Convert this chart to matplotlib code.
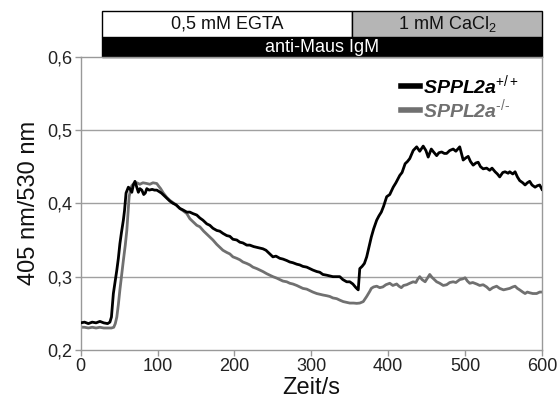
import matplotlib
matplotlib.use('Agg')
import matplotlib.pyplot as plt
from matplotlib.patches import Rectangle

plt.rcParams['font.family'] = ['Liberation Sans', 'DejaVu Sans']
plt.rcParams['mathtext.fontset'] = 'custom'
plt.rcParams['mathtext.rm'] = 'Liberation Sans'
plt.rcParams['mathtext.it'] = 'Liberation Sans:italic:bold'

# Zeit/s und 405/530-Verhaeltnis
t_wt = [0, 5, 10, 15, 20, 25, 30, 35, 38, 40, 42.5, 45, 47, 49, 51, 53, 55.5, 57, 59, 62,
        64, 66.5, 68.5, 70.6, 73, 75, 77, 79.5, 82, 84, 86, 89, 93, 96, 99, 102, 105, 108,
        112, 116, 120, 124, 129, 133, 138, 142, 146, 151, 155, 159, 164, 168, 172, 177,
        181, 185, 190, 194, 198, 203, 207, 211, 216, 220, 225, 229, 233, 237, 241, 245,
        250, 254, 259, 263, 268, 272, 276, 281, 285, 289, 294, 298, 302, 307, 311, 315,
        320, 324, 328, 333, 337, 341, 346, 350, 354, 358, 361, 363, 366, 369, 372, 376,
        378, 381, 385, 388, 391, 394, 398, 402, 406.5, 410, 415, 418, 422, 425, 428,
        432.5, 437, 441, 445.5, 449, 452, 456, 459, 463, 466, 469.5, 473, 476, 480,
        484.5, 488, 493, 497.5, 501, 504, 507, 510.5, 514, 517, 520, 523.5, 528, 532,
        535, 539, 542, 545, 549, 552, 556, 558, 562, 565, 568, 571, 575, 578, 581, 584,
        587, 591, 594, 597, 600]
r_wt = [0.237, 0.238, 0.236, 0.238, 0.237, 0.239, 0.237, 0.236, 0.238, 0.245, 0.277, 0.295,
        0.309, 0.325, 0.345, 0.360, 0.377, 0.390, 0.414, 0.422, 0.420, 0.415, 0.425, 0.430,
        0.422, 0.415, 0.420, 0.418, 0.412, 0.414, 0.420, 0.418, 0.419, 0.418, 0.418, 0.416,
        0.414, 0.411, 0.407, 0.403, 0.400, 0.398, 0.393, 0.391, 0.388, 0.388, 0.386, 0.384,
        0.380, 0.377, 0.372, 0.370, 0.366, 0.363, 0.362, 0.359, 0.356, 0.355, 0.351, 0.350,
        0.347, 0.346, 0.343, 0.343, 0.341, 0.340, 0.339, 0.338, 0.336, 0.332, 0.327, 0.328,
        0.325, 0.324, 0.322, 0.320, 0.319, 0.317, 0.316, 0.314, 0.313, 0.311, 0.309, 0.307,
        0.306, 0.303, 0.302, 0.301, 0.300, 0.300, 0.300, 0.296, 0.293, 0.293, 0.290, 0.285,
        0.282, 0.311, 0.314, 0.318, 0.327, 0.345, 0.354, 0.365, 0.377, 0.383, 0.388, 0.396,
        0.409, 0.412, 0.422, 0.428, 0.438, 0.442, 0.454, 0.457, 0.461, 0.472, 0.477, 0.471,
        0.478, 0.472, 0.463, 0.474, 0.470, 0.465, 0.469, 0.470, 0.468, 0.468, 0.472, 0.474,
        0.471, 0.477, 0.459, 0.462, 0.464, 0.457, 0.452, 0.455, 0.456, 0.450, 0.447, 0.448,
        0.445, 0.448, 0.443, 0.440, 0.436, 0.442, 0.443, 0.441, 0.443, 0.440, 0.443, 0.436,
        0.431, 0.428, 0.425, 0.428, 0.430, 0.425, 0.422, 0.424, 0.425, 0.419]

t_ko = [0, 5, 10, 15, 20, 25, 30, 35, 40, 43, 45, 47, 49, 51, 53, 55.5, 58, 60, 61.5, 63,
        65, 66.5, 69, 73, 77, 81, 86, 90, 94, 99, 101, 104, 107.5, 112, 116, 120, 125, 129,
        133, 138, 142, 146, 151, 155, 160, 164, 168, 172, 177, 181, 185, 190, 194, 198, 203,
        207, 211, 216, 220, 224, 229, 233, 237, 242, 246, 250, 255, 259, 263, 268, 272, 276,
        281, 285, 289, 294, 298, 302, 307, 311, 315, 320, 324, 328, 333, 337, 341.5, 346,
        350, 355, 359, 363, 367.5, 372, 376, 378, 381, 385, 389, 393, 397, 402, 406, 411,
        414, 417, 420, 424, 428, 432.5, 436, 438, 441, 444, 448, 451, 454, 457, 460, 463,
        467, 471.5, 476, 480, 484.5, 488, 493, 497, 500, 503, 506, 510, 515, 519, 523.5,
        528, 532, 536, 541, 545, 550, 554, 558, 562, 565, 568, 571, 575, 578, 581, 584, 588,
        593, 597, 600]
r_ko = [0.231, 0.231, 0.230, 0.231, 0.230, 0.231, 0.230, 0.230, 0.230, 0.231, 0.236, 0.245,
        0.262, 0.282, 0.300, 0.322, 0.343, 0.363, 0.385, 0.409, 0.419, 0.424, 0.427, 0.428,
        0.426, 0.428, 0.427, 0.426, 0.428, 0.427, 0.424, 0.420, 0.414, 0.408, 0.404, 0.401,
        0.397, 0.393, 0.390, 0.386, 0.379, 0.375, 0.370, 0.368, 0.362, 0.358, 0.354, 0.350,
        0.344, 0.340, 0.336, 0.333, 0.331, 0.327, 0.325, 0.323, 0.320, 0.318, 0.316, 0.313,
        0.311, 0.309, 0.307, 0.304, 0.302, 0.300, 0.298, 0.296, 0.294, 0.293, 0.291, 0.290,
        0.288, 0.286, 0.284, 0.283, 0.281, 0.279, 0.277, 0.276, 0.275, 0.274, 0.273, 0.271,
        0.270, 0.268, 0.266, 0.265, 0.264, 0.264, 0.2636, 0.264, 0.266, 0.273, 0.280, 0.284,
        0.286, 0.287, 0.285, 0.286, 0.289, 0.291, 0.288, 0.290, 0.287, 0.285, 0.288, 0.289,
        0.291, 0.293, 0.292, 0.296, 0.300, 0.296, 0.293, 0.298, 0.303, 0.299, 0.296, 0.293,
        0.291, 0.288, 0.289, 0.292, 0.293, 0.292, 0.296, 0.297, 0.2985, 0.294, 0.291, 0.292,
        0.290, 0.288, 0.289, 0.286, 0.282, 0.285, 0.287, 0.284, 0.282, 0.283, 0.284, 0.286,
        0.287, 0.284, 0.282, 0.279, 0.277, 0.279, 0.278, 0.277, 0.277, 0.279, 0.279]

# Behandlungsphasen (Start, Ende in s)
egta = (28, 353)
cacl2 = (353, 600)
igm = (28, 600)

fig = plt.figure(figsize=(5.58, 4.03), dpi=100)
ax = fig.add_axes([0.1446, 0.1315, 0.8267, 0.728])

ax.plot(t_wt, r_wt, color='black', lw=2.0, label='SPPL2a$^{+/+}$', zorder=3)
ax.plot(t_ko, r_ko, color='#707070', lw=2.0, label='SPPL2a$^{\u2010/\u2010}$', zorder=2)

ax.set_xlim(0, 600)
ax.set_ylim(0.2, 0.6)
ax.set_xticks(range(0, 601, 100))
ax.set_yticks([0.2, 0.3, 0.4, 0.5, 0.6])
ax.set_yticklabels(['0,2', '0,3', '0,4', '0,5', '0,6'])
for y in [0.3, 0.4, 0.5]:
    ax.axhline(y, color='#a0a0a0', lw=1.0, zorder=1)
for s in ax.spines.values():
    s.set_color('#999999')
    s.set_linewidth(1.0)
ax.tick_params(colors='#999999', labelcolor='#222222', labelsize=13, length=4, width=1,
               pad=2)
ax.set_xlabel('Zeit/s', fontsize=17, color='#111111', labelpad=1)
ax.set_ylabel('405 nm/530 nm', fontsize=17, color='#111111', labelpad=5)

leg = ax.legend(loc='upper left', bbox_to_anchor=(0.677, 0.97), frameon=False,
                handlelength=1.0, handletextpad=0.15, labelspacing=0.0,
                borderaxespad=0, prop={'size': 14, 'weight': 'bold', 'style': 'italic'})
for line in leg.get_lines():
    line.set_linewidth(4)
leg.get_texts()[1].set_color('#707070')

# Balken oberhalb der Achse
y0, y1, y2 = 0.6, 0.627, 0.6625
ax.add_patch(Rectangle((igm[0], y0), igm[1] - igm[0], y1 - y0, facecolor='black',
                       edgecolor='black', lw=1, clip_on=False))
ax.add_patch(Rectangle((egta[0], y1), egta[1] - egta[0], y2 - y1, facecolor='white',
                       edgecolor='black', lw=1, clip_on=False))
ax.add_patch(Rectangle((cacl2[0], y1), cacl2[1] - cacl2[0], y2 - y1, facecolor='#b5b5b5',
                       edgecolor='black', lw=1, clip_on=False))
ax.text((egta[0] + egta[1]) / 2, (y1 + y2) / 2, '0,5 mM EGTA', ha='center', va='center',
        fontsize=13, color='#111111')
ax.text((cacl2[0] + cacl2[1]) / 2, (y1 + y2) / 2, '1 mM CaCl$_2$', ha='center',
        va='center', fontsize=13, color='#111111')
ax.text((igm[0] + igm[1]) / 2, (y0 + y1) / 2 - 0.001, 'anti-Maus IgM', ha='center',
        va='center', fontsize=13, color='white')

fig.savefig('out.png', dpi=100)
